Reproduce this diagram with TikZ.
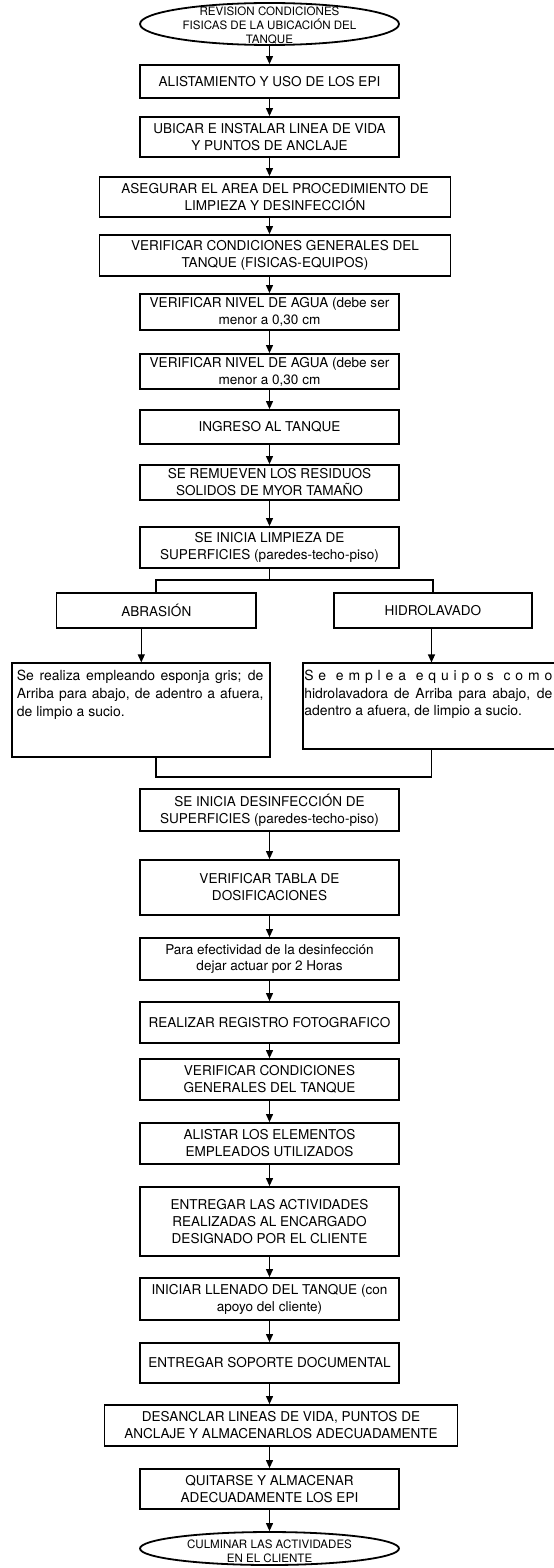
\documentclass[tikz,border=0pt]{standalone}
\usepackage{fontspec}
\setsansfont{TeX Gyre Heros}
\usetikzlibrary{arrows.meta,shapes.geometric}
\tikzset{
 stepbox/.style={draw,line width=1.8bp,align=center,inner sep=1bp,font=\sffamily\fontsize{13.6}{17}\selectfont},
 oval/.style={draw,ellipse,line width=1.8bp,inner sep=0pt},
 ovaltext/.style={align=center,inner sep=0pt,font=\sffamily\fontsize{11.6}{13.8}\selectfont},
 note/.style={inner sep=0pt,align=justify,anchor=north west,font=\sffamily\fontsize{14}{18}\selectfont},
 arr/.style={-{Triangle[length=8bp,width=7bp]},line width=1.1bp},
 conn/.style={line width=1.8bp},
}
\begin{document}
\begin{tikzpicture}[font=\sffamily,x=1bp,y=-1bp]
\useasboundingbox (0,0) rectangle (554,1568);
\node[oval,minimum width=259bp,minimum height=42bp] (start) at (269.5,24) {};
\node[ovaltext] (starttxt) at (269.5,25.5) {REVISION CONDICIONES\\FISICAS DE LA UBICACIÓN DEL\\TANQUE};
\foreach \n/\x/\y/\w/\h/\t in {
 b1/269.5/81.5/259/33/{ALISTAMIENTO Y USO DE LOS EPI},
 b2/269.5/137/259/40/{UBICAR E INSTALAR LINEA DE VIDA\\Y PUNTOS DE ANCLAJE},
 b3/275/197/351/40/{ASEGURAR EL AREA DEL PROCEDIMIENTO DE\\LIMPIEZA Y DESINFECCIÓN},
 b4/275/255.5/351/41/{VERIFICAR CONDICIONES GENERALES DEL\\TANQUE (FISICAS-EQUIPOS)},
 b5/269.5/312/259/36/{VERIFICAR NIVEL DE AGUA (debe ser\\menor a 0,30 cm},
 b6/269.5/371.5/259/35/{VERIFICAR NIVEL DE AGUA (debe ser\\menor a 0,30 cm},
 b7/269.5/427/259/34/{INGRESO AL TANQUE},
 b8/269.5/482.5/259/35/{SE REMUEVEN LOS RESIDUOS\\SOLIDOS DE MYOR TAMAÑO},
 b9/269.5/547.5/259/41/{SE INICIA LIMPIEZA DE\\SUPERFICIES (paredes-techo-piso)},
 b10/269.5/810/259/42/{SE INICIA DESINFECCIÓN DE\\SUPERFICIES (paredes-techo-piso)},
 b11/269.5/887.5/259/55/{VERIFICAR TABLA DE\\DOSIFICACIONES},
 b12/269.5/959/259/42/{Para efectividad de la desinfección\\dejar actuar por 2 Horas},
 b13/269.5/1022.5/259/41/{REALIZAR REGISTRO FOTOGRAFICO},
 b14/269.5/1079.5/259/41/{VERIFICAR CONDICIONES\\GENERALES DEL TANQUE},
 b15/269.5/1143.5/259/41/{ALISTAR LOS ELEMENTOS\\EMPLEADOS UTILIZADOS},
 b16/269.5/1221.5/259/69/{ENTREGAR LAS ACTIVIDADES\\REALIZADAS AL ENCARGADO\\DESIGNADO POR EL CLIENTE},
 b17/269.5/1299/259/42/{INICIAR LLENADO DEL TANQUE (con\\apoyo del cliente)},
 b18/269.5/1363/259/40/{ENTREGAR SOPORTE DOCUMENTAL},
 b19/281/1425.5/353/41/{DESANCLAR LINEAS DE VIDA, PUNTOS DE\\ANCLAJE Y ALMACENARLOS ADECUADAMENTE},
 b20/269.5/1489/259/40/{QUITARSE Y ALMACENAR\\ADECUADAMENTE LOS EPI}}
 {\node[stepbox,minimum width=\w bp,minimum height=\h bp] (\n) at (\x,\y) {\t};}
\node[oval,minimum width=259bp,minimum height=33bp] (finish) at (269.5,1548.5) {};
\node[ovaltext] (finishtxt) at (269.5,1551.5) {CULMINAR LAS ACTIVIDADES\\EN EL CLIENTE};
\node[stepbox,minimum width=199.7bp,minimum height=35bp] (abr) at (156.3,610.8) {ABRASIÓN};
\node[stepbox,minimum width=197.8bp,minimum height=35bp] (hid) at (432.9,610.8) {HIDROLAVADO};
\node[stepbox,minimum width=258bp,minimum height=93.4bp] (abrbox) at (141.3,710) {};
\node[stepbox,minimum width=257bp,minimum height=85.7bp] (hidbox) at (431.5,706.2) {};
\node[note,text width=246.6bp] (abrtxt) at ([shift={(5.3,7.5)}]abrbox.north west) {Se realiza empleando esponja gris; de\linebreak Arriba para abajo, de adentro a afuera,\linebreak de limpio a sucio.};
\node[note,text width=248bp] (hidtxt) at ([shift={(2,7)}]hidbox.north west) {\makebox[\linewidth][s]{S e\ \ e m p l e a\ \ e q u i p o s\ \ c o m o}\\hidrolavadora de Arriba para abajo, de\linebreak adentro a afuera, de limpio a sucio.};
\coordinate (split) at (269.5,580);
\coordinate (join) at (269.5,777);
\foreach \a/\b in {start/b1,b1/b2,b2/b3,b3/b4,b4/b5,b5/b6,b6/b7,b7/b8,b8/b9,b10/b11,b11/b12,b12/b13,b13/b14,b14/b15,b15/b16,b16/b17,b17/b18,b18/b19,b19/b20,b20/finish}
 {\draw[arr] (\a.south -| start) -- (\b.north -| start);}
\draw[conn] (b9.south) -- (split);
\draw[conn] (abr.north) |- (split) -| (hid.north);
\draw[arr] (abr.south -| abrbox.north) -- (abrbox.north);
\draw[arr] (hid.south -| hidbox.north) -- (hidbox.north);
\draw[conn] (abrbox.south -| abr) |- (join) -| (hidbox.south);
\end{tikzpicture}
\end{document}
